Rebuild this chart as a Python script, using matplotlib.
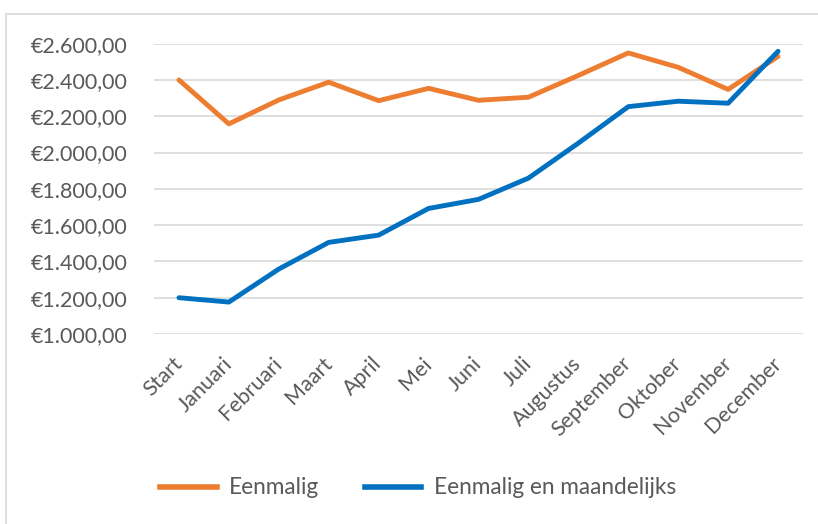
import matplotlib.pyplot as plt
from matplotlib.lines import Line2D
from matplotlib.ticker import FuncFormatter

maanden = ['Start', 'Januari', 'Februari', 'Maart', 'April', 'Mei', 'Juni',
           'Juli', 'Augustus', 'September', 'Oktober', 'November', 'December']
eenmalig = [2400, 2158, 2290, 2388, 2286, 2354, 2288, 2305, 2425, 2549, 2470, 2348, 2530]
eenmalig_maandelijks = [1200, 1176, 1358, 1505, 1545, 1692, 1742, 1859, 2052, 2253, 2283, 2272, 2558]

plt.rcParams['font.family'] = ['Lato', 'DejaVu Sans']
grijs = '#595959'

fig = plt.figure(figsize=(8.18, 5.24), dpi=100)
ax = fig.add_axes([154 / 818, 1 - 334 / 524, 649 / 818, 290.3 / 524])

x = range(len(maanden))
ax.plot(x, eenmalig, color='#ED7D31', lw=3.5, solid_capstyle='round',
        solid_joinstyle='round', label='Eenmalig', zorder=3)
ax.plot(x, eenmalig_maandelijks, color='#0070C0', lw=3.5, solid_capstyle='round',
        solid_joinstyle='round', label='Eenmalig en maandelijks', zorder=4)

ax.set_xlim(-0.5, len(maanden) - 0.5)
ax.set_ylim(1000, 2600)
ax.set_yticks(range(1000, 2601, 200))


def euro(v, pos):
    s = f'{v:,.2f}'.replace(',', 'X').replace('.', ',').replace('X', '.')
    return '€' + s


ax.yaxis.set_major_formatter(FuncFormatter(euro))
ax.grid(axis='y', color='#D9D9D9', lw=1.2)
ax.set_axisbelow(True)
for s in ax.spines.values():
    s.set_visible(False)
ax.tick_params(axis='both', length=0, colors=grijs, labelsize=15.5)
ax.tick_params(axis='y', pad=19)
ax.set_xticks(list(x))
ax.set_xticklabels(maanden, rotation=45, ha='right', va='center',
                   rotation_mode='anchor', color=grijs, fontsize=15.5)
ax.tick_params(axis='x', pad=19)

handles = [Line2D([], [], color='#ED7D31', lw=4),
           Line2D([], [], color='#0070C0', lw=4)]
fig.legend(handles, ['Eenmalig', 'Eenmalig en maandelijks'], loc='center',
           bbox_to_anchor=(418 / 818, 1 - 488 / 524), ncol=2, frameon=False,
           fontsize=16.3, labelcolor=grijs, handlelength=2.5, handletextpad=0.55,
           columnspacing=2.0)

# chart area border (Excel style)
fig.add_artist(Line2D([6 / 818, 1], [1 - 14 / 524, 1 - 14 / 524],
                      transform=fig.transFigure, color='#D9D9D9', lw=1.2))
fig.add_artist(Line2D([6 / 818, 6 / 818], [0, 1 - 14 / 524],
                      transform=fig.transFigure, color='#D9D9D9', lw=1.2))

fig.savefig('out.png', dpi=100)
